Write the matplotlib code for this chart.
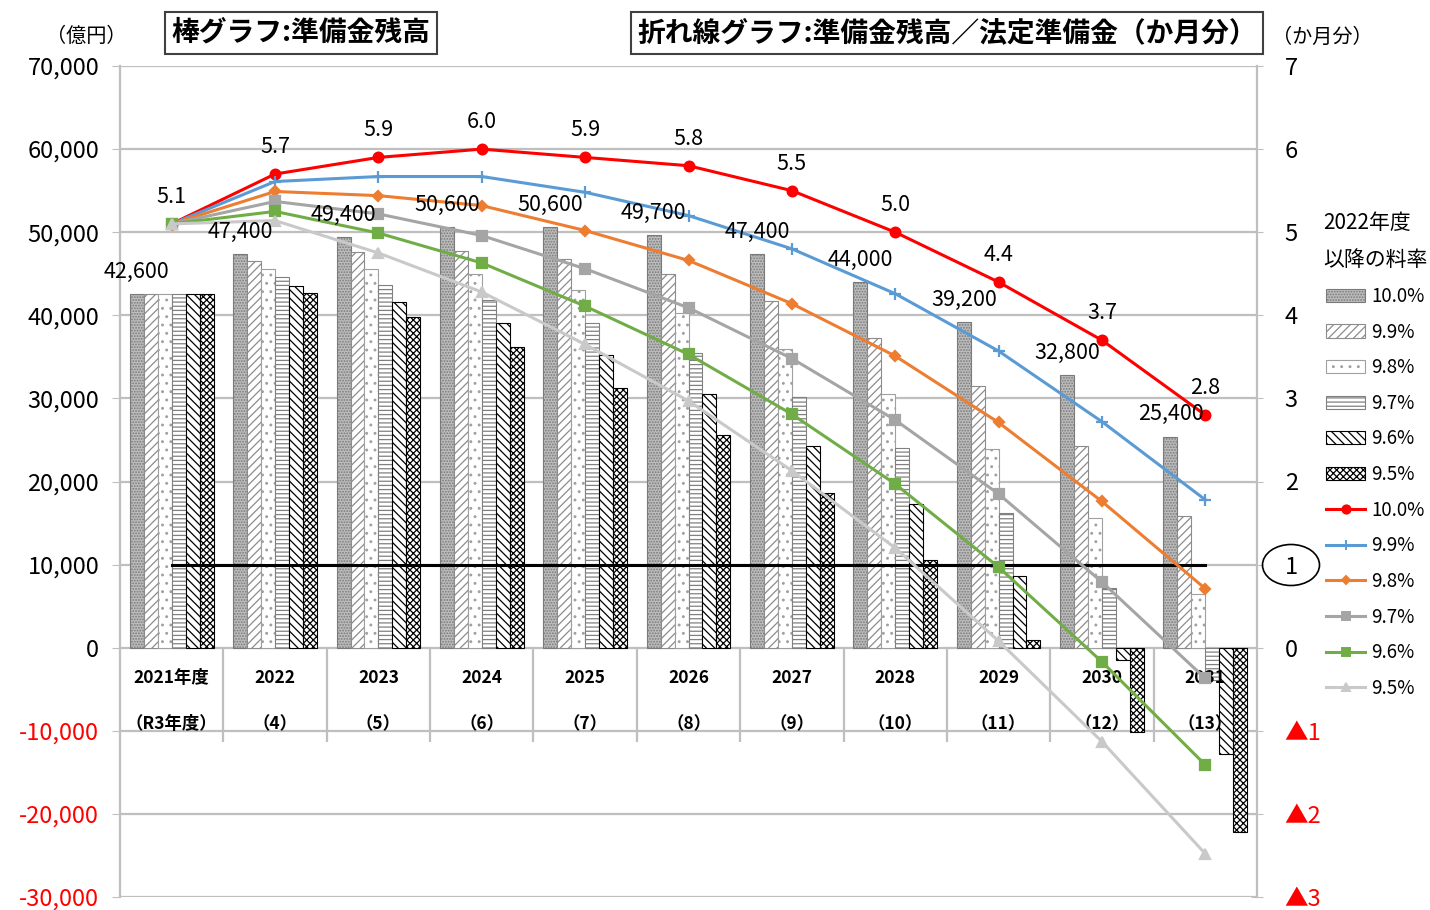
import numpy as np
import matplotlib.pyplot as plt
from matplotlib.patches import Patch, Ellipse
from matplotlib.lines import Line2D

plt.rcParams['font.family'] = ['Noto Sans CJK JP', 'DejaVu Sans']
plt.rcParams['hatch.linewidth'] = 0.9

years = ['2021年度', '2022', '2023', '2024', '2025', '2026',
         '2027', '2028', '2029', '2030', '2031']
reiwa = ['（R3年度）', '（4）', '（5）', '（6）', '（7）', '（8）',
         '（9）', '（10）', '（11）', '（12）', '（13）']
rates = ['10.0%', '9.9%', '9.8%', '9.7%', '9.6%', '9.5%']

# 準備金残高（億円）
bal_100 = [42600, 47400, 49400, 50600, 50600, 49700, 47400, 44000, 39200, 32800, 25400]
bal_99 = [42600, 46550, 47630, 47760, 46720, 44910, 41700, 37300, 31530, 24320, 15870]
bal_98 = [42600, 45630, 45630, 44910, 43030, 40230, 35900, 30490, 23920, 15640, 6420]
bal_97 = [42600, 44630, 43630, 41900, 39020, 35420, 30130, 24000, 16190, 7140, -3900]
bal_96 = [42600, 43510, 41620, 39020, 35220, 30490, 24320, 17310, 8570, -1530, -12780]
bal_95 = [42600, 42630, 39820, 36220, 31290, 25600, 18670, 10540, 960, -10110, -22120]

# 準備金残高／法定準備金（か月分）
mon_100 = [5.1, 5.7, 5.9, 6.0, 5.9, 5.8, 5.5, 5.0, 4.4, 3.7, 2.8]
mon_99 = [5.1, 5.61, 5.67, 5.67, 5.48, 5.20, 4.80, 4.26, 3.57, 2.72, 1.78]
mon_98 = [5.1, 5.49, 5.44, 5.32, 5.02, 4.66, 4.14, 3.51, 2.71, 1.76, 0.71]
mon_97 = [5.1, 5.37, 5.22, 4.96, 4.56, 4.09, 3.48, 2.74, 1.85, 0.79, -0.37]
mon_96 = [5.1, 5.25, 4.99, 4.63, 4.11, 3.53, 2.81, 1.97, 0.97, -0.17, -1.41]
mon_95 = [5.1, 5.14, 4.75, 4.28, 3.65, 2.97, 2.13, 1.20, 0.08, -1.13, -2.48]
legal_level = 1.0

balances = [bal_100, bal_99, bal_98, bal_97, bal_96, bal_95]
months = [mon_100, mon_99, mon_98, mon_97, mon_96, mon_95]

bar_styles = [
    dict(facecolor='#bdbdbd', edgecolor='#7a7a7a', hatch='......'),
    dict(facecolor='white', edgecolor='#8c8c8c', hatch='////'),
    dict(facecolor='white', edgecolor='#a0a0a0', hatch='..'),
    dict(facecolor='white', edgecolor='#808080', hatch='----'),
    dict(facecolor='white', edgecolor='black', hatch='\\\\\\\\'),
    dict(facecolor='white', edgecolor='black', hatch='xxxxx'),
]
line_styles = [
    ('#ff0000', 'o', 7),
    ('#5b9bd5', '+', 9),
    ('#ed7d31', 'D', 5),
    ('#a5a5a5', 's', 7),
    ('#70ad47', 's', 7),
    ('#c9c9c9', '^', 7),
]
grid_c = '#bfbfbf'

x = np.arange(len(years))
w = 0.135

fig = plt.figure(figsize=(14.3, 9.1), dpi=100)
ax = fig.add_axes([120 / 1430, 13 / 910, 1137 / 1430, 831 / 910])

for j, (vals, st) in enumerate(zip(balances, bar_styles)):
    ax.bar(x + (j - 2.5) * w, vals, w, linewidth=0.8, zorder=3, **st)

ax.set_xlim(-0.5, 10.5)
ax.set_ylim(-30000, 70000)
ax.set_yticks(np.arange(-30000, 70001, 10000))
ax.set_yticklabels([f'{v:,}' for v in range(-30000, 70001, 10000)])
for lab, v in zip(ax.get_yticklabels(), range(-30000, 70001, 10000)):
    lab.set_color('#ff0000' if v < 0 else 'black')
ax.tick_params(axis='y', labelsize=17, length=6, color=grid_c, pad=9)
ax.set_xticks([])
ax.set_axisbelow(True)
ax.yaxis.grid(True, color=grid_c, lw=1.6)
for s in ['top', 'bottom', 'right']:
    ax.spines[s].set_visible(False)
ax.spines['left'].set_color(grid_c)
ax.spines['left'].set_linewidth(1.6)

# category table under the zero line
ax.vlines(x[1:] - 0.5, -11300, 0, color=grid_c, lw=1.6, zorder=1)
for i in x:
    ax.text(i, -3700, years[i], ha='center', va='center', fontsize=12.5,
            fontweight='bold', zorder=4)
    ax.text(i, -9200, reiwa[i], ha='center', va='center', fontsize=12.5,
            fontweight='bold', zorder=4)

ax2 = ax.twinx()
ax2.set_ylim(-3, 7)
ax2.plot([x[0], x[-1]], [legal_level, legal_level], color='black', lw=2.2, zorder=2)
for vals, (c, m, ms) in zip(months, line_styles):
    ax2.plot(x, vals, color=c, lw=2.2, marker=m, ms=ms, mew=1.6, zorder=3)

ticks2 = list(range(-3, 8))
ax2.set_yticks(ticks2)
ax2.set_yticklabels([f'▲{-t}' if t < 0 else str(t) for t in ticks2])
ax2.tick_params(axis='y', labelsize=17, length=8, direction='inout',
                color=grid_c, pad=16)
for lab, t in zip(ax2.get_yticklabels(), ticks2):
    if t < 0:
        lab.set_color('#ff0000')
for s in ['top', 'bottom', 'left']:
    ax2.spines[s].set_visible(False)
ax2.spines['right'].set_color(grid_c)
ax2.spines['right'].set_linewidth(1.6)

# ring around the legal reserve level on the right scale
fig.add_artist(Ellipse((1291 / 1430, 1 - 565 / 910), 57 / 1430, 41 / 910,
                       transform=fig.transFigure, fc='none', ec='black', lw=1.2))

# value labels: balance for 10.0% bars, months for the 10.0% line
for i, v in enumerate(bal_100):
    ax2.annotate(f'{v:,}', (x[i] - 2.5 * w, v), xycoords=ax.transData,
                 xytext=(0, 16), textcoords='offset points',
                 ha='center', va='center', fontsize=15.5, zorder=6)
for i, m in enumerate(mon_100):
    ax2.annotate(f'{m:.1f}', (x[i], m), xytext=(0, 19.5),
                 textcoords='offset points', ha='center', va='center',
                 fontsize=15.5, zorder=6)

handles = [Patch(linewidth=0.8, **st) for st in bar_styles]
handles += [Line2D([], [], color=c, marker=m, ms=ms * 0.85, mew=1.4, lw=2.2)
            for c, m, ms in line_styles]
leg = fig.legend(handles, rates + rates, loc='upper left',
                 bbox_to_anchor=(1323 / 1430, 1 - 212 / 910), frameon=False,
                 fontsize=13.5, title='2022年度\n以降の料率', title_fontsize=15,
                 handlelength=2.1, handleheight=0.7, labelspacing=0.78,
                 handletextpad=0.3, borderaxespad=0, borderpad=0)
leg.get_title().set_linespacing(1.9)

fig.text(301 / 1430, 1 - 33 / 910, '棒グラフ:準備金残高', ha='center', va='center',
         fontsize=20, fontweight='bold',
         bbox=dict(boxstyle='square,pad=0.24', fc='white', ec='#404040', lw=1.5))
fig.text(947 / 1430, 1 - 33 / 910, '折れ線グラフ:準備金残高／法定準備金（か月分）',
         ha='center', va='center', fontsize=20, fontweight='bold',
         bbox=dict(boxstyle='square,pad=0.24', fc='white', ec='#404040', lw=1.5))
fig.text(86 / 1430, 1 - 36 / 910, '（億円）', ha='center', va='center', fontsize=14.5)
fig.text(1322 / 1430, 1 - 37 / 910, '（か月分）', ha='center', va='center', fontsize=14.5)

fig.savefig('out.png', dpi=100)
